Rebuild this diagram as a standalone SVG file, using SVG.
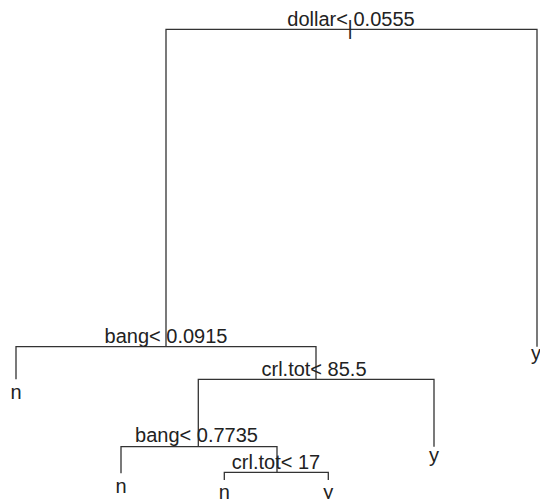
<svg xmlns="http://www.w3.org/2000/svg" width="540" height="499" viewBox="0 0 540 499">
  <style>
    .edge { fill: none; stroke: #333; stroke-width: 1.3; }
    .lbl { font-family: "Liberation Sans", Arial, sans-serif; font-size: 20px; fill: #222; text-anchor: middle; }
  </style>
  <rect width="540" height="499" fill="#fff"/>

  <!-- tree branches -->
  <g id="connectors">
    <!-- root split: dollar -->
    <path class="edge" d="M166,347 V29.3 H537 V346.7"/>
    <!-- bang < 0.0915 -->
    <path class="edge" d="M16,379.3 V346.7 H316 V379.3"/>
    <!-- crl.tot < 85.5 -->
    <path class="edge" d="M198.3,446.7 V379.3 H434 V446.7"/>
    <!-- bang < 0.7735 -->
    <path class="edge" d="M121,473.3 V446.7 H277 V472.3"/>
    <!-- crl.tot < 17 -->
    <path class="edge" d="M224.3,480 V472.3 H328.3 V480"/>
  </g>

  <!-- split nodes -->
  <g id="node-root">
    <text class="lbl" x="351" y="26">dollar&lt; 0.0555</text>
    <text class="lbl" x="350" y="35">|</text>
  </g>
  <g id="node-bang1">
    <text class="lbl" x="166" y="342.5">bang&lt; 0.0915</text>
  </g>
  <g id="node-crltot1">
    <text class="lbl" x="314" y="375.8">crl.tot&lt; 85.5</text>
  </g>
  <g id="node-bang2">
    <text class="lbl" x="196.5" y="442">bang&lt; 0.7735</text>
  </g>
  <g id="node-crltot2">
    <text class="lbl" x="276" y="469">crl.tot&lt; 17</text>
  </g>

  <!-- leaves -->
  <g id="leaf-1"><text class="lbl" x="16" y="399">n</text></g>
  <g id="leaf-2"><text class="lbl" x="536" y="359.5">y</text></g>
  <g id="leaf-3"><text class="lbl" x="434" y="462">y</text></g>
  <g id="leaf-4"><text class="lbl" x="121" y="493">n</text></g>
  <g id="leaf-5"><text class="lbl" x="224.3" y="498.5">n</text></g>
  <g id="leaf-6"><text class="lbl" x="328.3" y="498.5">y</text></g>
</svg>
